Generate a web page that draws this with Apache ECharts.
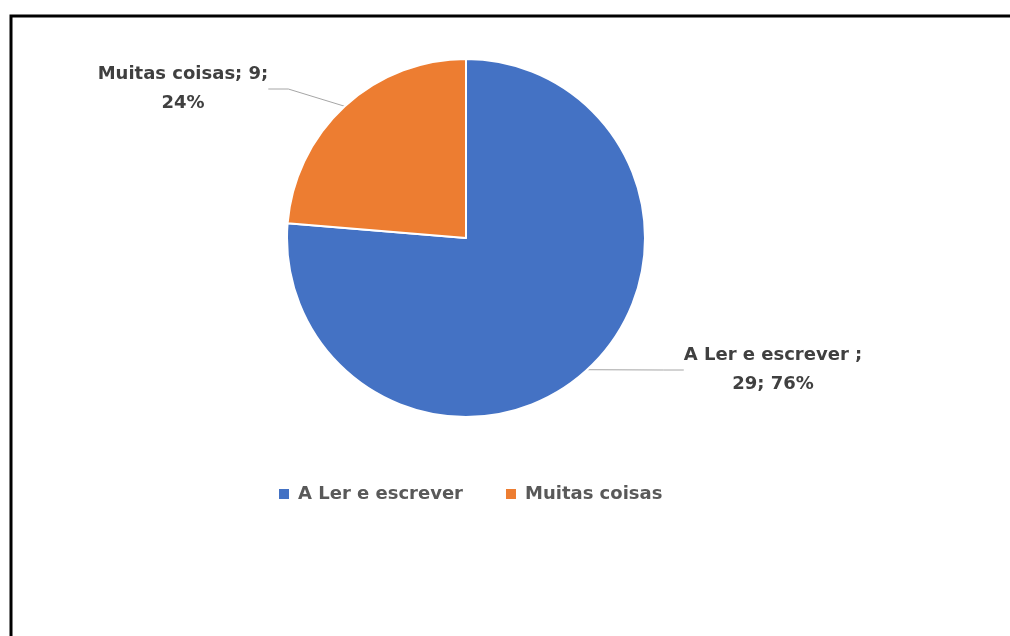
<!DOCTYPE html>
<html>
<head>
<meta charset="utf-8">
<script src="https://cdn.jsdelivr.net/npm/echarts@6/dist/echarts.min.js"></script>
<style>
  html, body { margin: 0; padding: 0; background: #fff; }
  #chart { width: 1010px; height: 636px; }
</style>
</head>
<body>
<div id="chart"></div>
<script>
// Answers and counts
const categories = ['A Ler e escrever', 'Muitas coisas'];
const counts = [29, 9];
const colors = ['#4472C4', '#ED7D31'];
// Label text as written next to each slice
const labelText = ['A Ler e escrever ;\n29; 76%', 'Muitas coisas; 9;\n24%'];

const chart = echarts.init(document.getElementById('chart'), null, { renderer: 'canvas' });

const fontFamily = '"DejaVu Sans", sans-serif';

chart.setOption({
  animation: false,
  backgroundColor: '#ffffff',
  color: colors,
  graphic: [{
    type: 'rect',
    shape: { x: 11, y: 16, width: 1020, height: 640 },
    style: { fill: 'none', stroke: '#000', lineWidth: 3 },
    silent: true,
    z: 10
  }],
  legend: {
    data: categories,
    left: 272,
    top: 480,
    itemWidth: 12,
    itemHeight: 12,
    itemGap: 41,
    icon: 'rect',
    textStyle: {
      color: '#595959', fontSize: 18, fontWeight: 'bold', fontFamily: fontFamily,
      padding: [0, 0, 0, 3]
    }
  },
  series: [{
    type: 'pie',
    center: [466, 238],
    radius: 179,
    startAngle: 90,
    clockwise: true,
    data: categories.map((c, i) => ({ name: c, value: counts[i] })),
    itemStyle: { borderColor: '#ffffff', borderWidth: 2 },
    label: {
      show: true,
      formatter: (p) => labelText[p.dataIndex],
      color: '#404040',
      fontSize: 18,
      fontWeight: 'bold',
      fontFamily: fontFamily,
      lineHeight: 29,
      align: 'center'
    },
    labelLine: {
      show: true,
      length: 20,
      length2: 20,
      lineStyle: { color: '#A6A6A6', width: 1 }
    },
    labelLayout: function (params) {
      if (params.dataIndex === 0) {
        return { x: 773, y: 370, align: 'center', verticalAlign: 'middle' };
      }
      return { x: 183, y: 89, align: 'center', verticalAlign: 'middle' };
    }
  }]
});
</script>
</body>
</html>
